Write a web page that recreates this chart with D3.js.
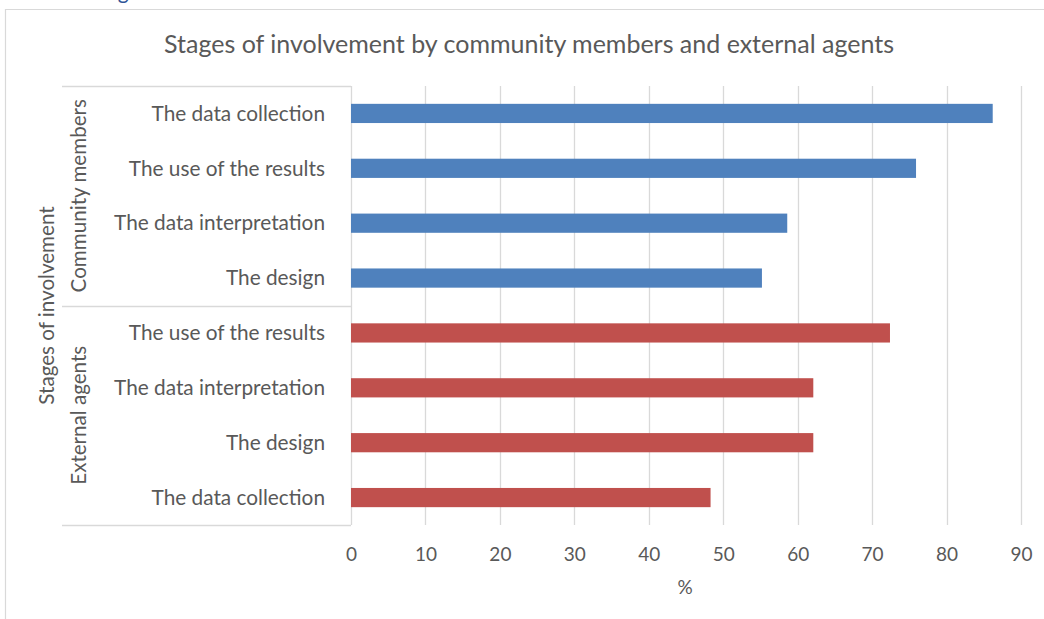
<!DOCTYPE html>
<html>
<head>
<meta charset="utf-8">
<script src="https://cdn.jsdelivr.net/npm/d3@7/dist/d3.min.js"></script>
<style>
  html, body { margin: 0; padding: 0; background: #fff; }
  svg { display: block; }
  text { font-family: Lato, "Open Sans", sans-serif; fill: #595959; }
</style>
</head>
<body>
<svg id="chart" width="1044" height="619"></svg>
<script>
// Chart values
const chartTitle = "Stages of involvement by community members and external agents";
const groupNames = ["Community members", "External agents"];
const communityStages = ["The data collection", "The use of the results", "The data interpretation", "The design"];
const communityValues = [86.2, 75.9, 58.6, 55.2];
const externalStages = ["The use of the results", "The data interpretation", "The design", "The data collection"];
const externalValues = [72.4, 62.1, 62.1, 48.3];
const xTicks = [0, 10, 20, 30, 40, 50, 60, 70, 80, 90];
const xAxisTitle = "%";
const yAxisTitle = "Stages of involvement";
const groupColors = ["#4F81BD", "#C0504D"];

const rows = [
  ...communityStages.map((s, i) => ({ group: 0, stage: s, value: communityValues[i], key: "c" + i })),
  ...externalStages.map((s, i) => ({ group: 1, stage: s, value: externalValues[i], key: "e" + i }))
];

const svg = d3.select("#chart");

const plot = { left: 351, right: 1021, top: 86, bottom: 525 };
const labelLeft = 62;

const x = d3.scaleLinear().domain([0, 90]).range([plot.left, plot.right]);
const y = d3.scaleBand()
  .domain(rows.map(d => d.key))
  .range([plot.top, plot.bottom])
  .paddingInner(0.65)
  .paddingOuter(0.325);

// Caption fragment above the chart frame
svg.append("text")
  .attr("x", 101).attr("y", -1)
  .style("fill", "#2F5597")
  .style("font-size", "21px")
  .text("Figure");

// Chart frame
svg.append("path")
  .attr("d", "M5.5,619 V9.5 H1044")
  .attr("fill", "none")
  .attr("stroke", "#D9D9D9")
  .attr("stroke-width", 1.2);

// Title
svg.append("text")
  .attr("x", 529).attr("y", 53)
  .attr("text-anchor", "middle")
  .style("font-size", "25px")
  .text(chartTitle);

// Vertical gridlines
svg.append("g")
  .selectAll("line")
  .data(xTicks)
  .join("line")
  .attr("x1", d => Math.round(x(d)) + 0.5)
  .attr("x2", d => Math.round(x(d)) + 0.5)
  .attr("y1", plot.top)
  .attr("y2", plot.bottom)
  .attr("stroke", "#D9D9D9")
  .attr("stroke-width", 1.3);

// Category axis grouping lines
const groupEdges = [plot.top, (y("c3") + y.bandwidth() + y("e0")) / 2, plot.bottom];
svg.append("g")
  .selectAll("line")
  .data(groupEdges)
  .join("line")
  .attr("x1", labelLeft)
  .attr("x2", plot.left)
  .attr("y1", d => Math.round(d) + 0.5)
  .attr("y2", d => Math.round(d) + 0.5)
  .attr("stroke", "#D9D9D9")
  .attr("stroke-width", 1.3);

// Bars
svg.append("g")
  .selectAll("rect")
  .data(rows)
  .join("rect")
  .attr("x", x(0))
  .attr("y", d => y(d.key))
  .attr("width", d => x(d.value) - x(0))
  .attr("height", y.bandwidth())
  .attr("fill", d => groupColors[d.group]);

// Category labels
svg.append("g")
  .selectAll("text")
  .data(rows)
  .join("text")
  .attr("x", 325)
  .attr("y", d => y(d.key) + y.bandwidth() / 2)
  .attr("dy", "0.35em")
  .attr("text-anchor", "end")
  .style("font-size", "20.8px")
  .text(d => d.stage);

// Group labels (rotated)
groupNames.forEach((name, gi) => {
  const keys = rows.filter(d => d.group === gi).map(d => d.key);
  const cy = (y(keys[0]) + y(keys[keys.length - 1]) + y.bandwidth()) / 2;
  svg.append("text")
    .attr("transform", `translate(79,${cy}) rotate(-90)`)
    .attr("text-anchor", "middle")
    .attr("dy", "0.35em")
    .style("font-size", "20.6px")
    .text(name);
});

// Vertical axis title
svg.append("text")
  .attr("transform", `translate(47,${(plot.top + plot.bottom) / 2}) rotate(-90)`)
  .attr("text-anchor", "middle")
  .attr("dy", "0.35em")
  .style("font-size", "20.6px")
  .text(yAxisTitle);

// X axis tick labels
const xAxis = d3.axisBottom(x).tickValues(xTicks).tickSize(0).tickPadding(0);
const gx = svg.append("g")
  .attr("transform", `translate(0,${plot.bottom})`)
  .call(xAxis);
gx.select(".domain").remove();
gx.selectAll("text")
  .attr("y", 29)
  .attr("dy", "0.35em")
  .style("font-size", "19px")
  .style("font-family", "Lato, 'Open Sans', sans-serif")
  .attr("fill", "#595959");

// X axis title
svg.append("text")
  .attr("x", 685).attr("y", 587)
  .attr("dy", "0.35em")
  .attr("text-anchor", "middle")
  .style("font-size", "19px")
  .text(xAxisTitle);
</script>
</body>
</html>
